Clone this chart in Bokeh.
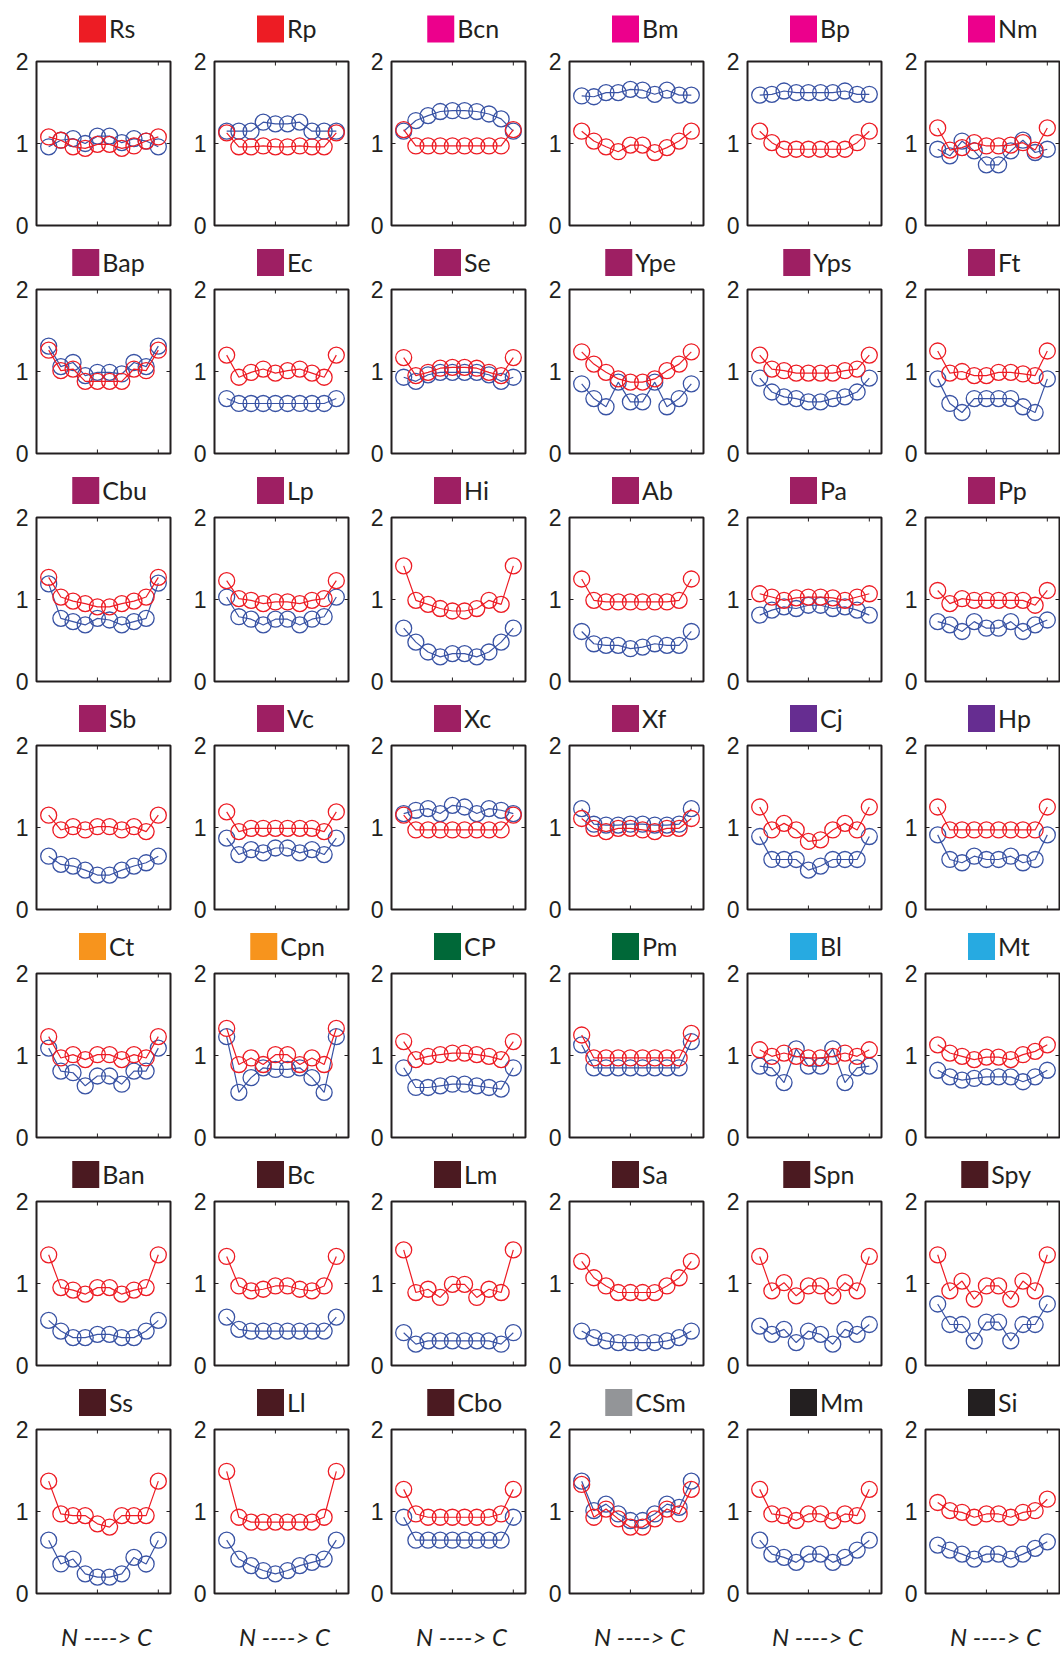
from math import pi
from bokeh.plotting import figure
from bokeh.layouts import column, row
from bokeh.models import Range1d, FixedTicker
from bokeh.core.properties import value
from bokeh.embed import file_html
from bokeh.resources import INLINE

# ---------------- data ----------------
POS = [1, 2, 3, 4, 5, 6, 7, 8, 9, 10]

NAMES = ["Rs", "Rp", "Bcn", "Bm", "Bp", "Nm",
         "Bap", "Ec", "Se", "Ype", "Yps", "Ft",
         "Cbu", "Lp", "Hi", "Ab", "Pa", "Pp",
         "Sb", "Vc", "Xc", "Xf", "Cj", "Hp",
         "Ct", "Cpn", "CP", "Pm", "Bl", "Mt",
         "Ban", "Bc", "Lm", "Sa", "Spn", "Spy",
         "Ss", "Ll", "Cbo", "CSm", "Mm", "Si"]

GROUP_COLORS = ["#ED1C24", "#ED1C24", "#EC008C", "#EC008C", "#EC008C", "#EC008C",
                "#9E1F63", "#9E1F63", "#9E1F63", "#9E1F63", "#9E1F63", "#9E1F63",
                "#9E1F63", "#9E1F63", "#9E1F63", "#9E1F63", "#9E1F63", "#9E1F63",
                "#9E1F63", "#9E1F63", "#9E1F63", "#9E1F63", "#662D91", "#662D91",
                "#F7941D", "#F7941D", "#006838", "#006838", "#27AAE1", "#27AAE1",
                "#4B1A21", "#4B1A21", "#4B1A21", "#4B1A21", "#4B1A21", "#4B1A21",
                "#4B1A21", "#4B1A21", "#4B1A21", "#939598", "#231F20", "#231F20"]

RED_SERIES = [
    [1.08, 1.04, 0.96, 0.94, 0.99, 0.99, 0.94, 0.97, 1.03, 1.08],  # Rs
    [1.13, 0.96, 0.96, 0.97, 0.96, 0.96, 0.97, 0.96, 0.96, 1.13],  # Rp
    [1.17, 0.97, 0.97, 0.97, 0.97, 0.97, 0.97, 0.97, 0.97, 1.17],  # Bcn
    [1.15, 1.03, 0.96, 0.90, 0.98, 0.98, 0.89, 0.95, 1.03, 1.15],  # Bm
    [1.15, 1.01, 0.93, 0.93, 0.93, 0.93, 0.93, 0.93, 1.01, 1.15],  # Bp
    [1.19, 0.92, 0.95, 1.01, 0.97, 0.97, 0.98, 1.01, 0.92, 1.19],  # Nm
    [1.26, 1.01, 1.03, 0.88, 0.88, 0.88, 0.88, 1.03, 1.01, 1.26],  # Bap
    [1.20, 0.93, 0.99, 1.03, 0.98, 1.01, 1.03, 0.98, 0.93, 1.20],  # Ec
    [1.17, 0.95, 0.99, 1.04, 1.05, 1.05, 1.04, 0.99, 0.95, 1.17],  # Se
    [1.24, 1.09, 0.99, 0.91, 0.87, 0.87, 0.91, 1.01, 1.09, 1.24],  # Ype
    [1.20, 1.03, 1.01, 0.98, 0.98, 0.98, 0.98, 1.01, 1.03, 1.20],  # Yps
    [1.25, 0.98, 1.00, 0.95, 0.95, 0.99, 0.99, 0.97, 0.95, 1.25],  # Ft
    [1.27, 1.03, 0.98, 0.95, 0.91, 0.91, 0.95, 0.98, 1.03, 1.27],  # Cbu
    [1.23, 1.01, 0.99, 0.95, 0.97, 0.97, 0.95, 0.99, 1.01, 1.23],  # Lp
    [1.41, 0.99, 0.94, 0.89, 0.86, 0.86, 0.89, 0.99, 0.94, 1.41],  # Hi
    [1.25, 0.99, 0.97, 0.97, 0.97, 0.97, 0.97, 0.97, 0.99, 1.25],  # Ab
    [1.07, 1.03, 0.99, 1.02, 1.03, 1.03, 1.02, 0.99, 1.03, 1.07],  # Pa
    [1.11, 0.95, 1.01, 0.99, 0.99, 0.99, 0.99, 0.99, 0.93, 1.11],  # Pp
    [1.15, 0.97, 1.01, 0.97, 1.01, 1.01, 0.97, 1.01, 0.95, 1.15],  # Sb
    [1.19, 0.95, 0.99, 0.99, 0.99, 0.99, 0.99, 0.99, 0.95, 1.19],  # Vc
    [1.15, 0.97, 0.97, 0.97, 0.97, 0.97, 0.97, 0.97, 0.97, 1.15],  # Xc
    [1.11, 0.99, 0.95, 0.99, 0.99, 0.97, 0.95, 0.99, 0.99, 1.11],  # Xf
    [1.25, 0.97, 1.05, 0.97, 0.83, 0.85, 0.97, 1.05, 0.97, 1.25],  # Cj
    [1.25, 0.97, 0.97, 0.97, 0.97, 0.97, 0.97, 0.97, 0.97, 1.25],  # Hp
    [1.23, 0.97, 1.01, 0.95, 1.01, 1.01, 0.95, 1.01, 0.97, 1.23],  # Ct
    [1.33, 0.89, 0.97, 0.89, 1.01, 1.01, 0.89, 0.97, 0.89, 1.33],  # Cpn
    [1.17, 0.95, 0.99, 1.01, 1.03, 1.03, 1.01, 0.99, 0.95, 1.17],  # CP
    [1.25, 0.97, 0.97, 0.97, 0.97, 0.97, 0.97, 0.97, 0.97, 1.27],  # Pm
    [1.07, 0.99, 1.03, 0.99, 0.97, 0.97, 0.99, 1.03, 0.99, 1.07],  # Bl
    [1.13, 1.03, 0.99, 0.95, 0.98, 0.98, 0.95, 1.01, 1.05, 1.13],  # Mt
    [1.35, 0.95, 0.92, 0.87, 0.95, 0.95, 0.87, 0.92, 0.95, 1.35],  # Ban
    [1.33, 0.97, 0.91, 0.93, 0.97, 0.97, 0.93, 0.91, 0.97, 1.33],  # Bc
    [1.41, 0.89, 0.93, 0.83, 0.99, 0.99, 0.83, 0.93, 0.89, 1.41],  # Lm
    [1.27, 1.07, 0.97, 0.89, 0.89, 0.89, 0.89, 0.97, 1.07, 1.27],  # Sa
    [1.33, 0.91, 1.01, 0.85, 0.97, 0.97, 0.85, 1.01, 0.91, 1.33],  # Spn
    [1.35, 0.91, 1.03, 0.81, 0.97, 0.97, 0.81, 1.03, 0.91, 1.35],  # Spy
    [1.37, 0.97, 0.95, 0.95, 0.85, 0.81, 0.95, 0.95, 0.95, 1.37],  # Ss
    [1.49, 0.93, 0.87, 0.87, 0.87, 0.87, 0.87, 0.87, 0.93, 1.49],  # Ll
    [1.27, 0.97, 0.93, 0.93, 0.93, 0.93, 0.93, 0.93, 0.97, 1.27],  # Cbo
    [1.33, 0.93, 1.03, 0.91, 0.81, 0.81, 0.91, 1.03, 0.97, 1.27],  # CSm
    [1.27, 0.97, 0.95, 0.89, 0.97, 0.97, 0.89, 0.97, 0.95, 1.27],  # Mm
    [1.11, 1.01, 0.99, 0.93, 0.97, 0.97, 0.93, 0.99, 1.01, 1.15],  # Si
]

BLUE_SERIES = [
    [0.96, 1.04, 1.06, 1.00, 1.09, 1.09, 1.01, 1.06, 1.03, 0.96],  # Rs
    [1.15, 1.15, 1.15, 1.26, 1.24, 1.24, 1.26, 1.15, 1.15, 1.15],  # Rp
    [1.15, 1.28, 1.34, 1.39, 1.40, 1.40, 1.39, 1.36, 1.30, 1.15],  # Bcn
    [1.58, 1.57, 1.62, 1.62, 1.66, 1.65, 1.60, 1.65, 1.59, 1.59],  # Bm
    [1.59, 1.60, 1.64, 1.62, 1.62, 1.62, 1.62, 1.64, 1.60, 1.60],  # Bp
    [0.93, 0.85, 1.03, 0.91, 0.74, 0.74, 0.91, 1.04, 0.89, 0.93],  # Nm
    [1.31, 1.06, 1.11, 0.95, 0.99, 0.99, 0.97, 1.11, 1.06, 1.31],  # Bap
    [0.67, 0.61, 0.61, 0.61, 0.61, 0.61, 0.61, 0.61, 0.61, 0.67],  # Ec
    [0.93, 0.88, 0.96, 0.99, 0.99, 0.99, 0.99, 0.96, 0.88, 0.93],  # Se
    [0.85, 0.67, 0.57, 0.87, 0.63, 0.63, 0.87, 0.57, 0.67, 0.85],  # Ype
    [0.92, 0.75, 0.69, 0.67, 0.63, 0.63, 0.67, 0.69, 0.75, 0.92],  # Yps
    [0.91, 0.61, 0.50, 0.67, 0.67, 0.67, 0.67, 0.57, 0.50, 0.91],  # Ft
    [1.19, 0.77, 0.73, 0.69, 0.77, 0.75, 0.69, 0.73, 0.77, 1.20],  # Cbu
    [1.03, 0.79, 0.76, 0.69, 0.76, 0.76, 0.69, 0.76, 0.79, 1.03],  # Lp
    [0.65, 0.48, 0.36, 0.30, 0.34, 0.34, 0.30, 0.36, 0.48, 0.65],  # Hi
    [0.61, 0.46, 0.44, 0.44, 0.40, 0.42, 0.46, 0.44, 0.44, 0.61],  # Ab
    [0.81, 0.87, 0.91, 0.89, 0.93, 0.93, 0.89, 0.91, 0.87, 0.81],  # Pa
    [0.73, 0.69, 0.61, 0.73, 0.65, 0.65, 0.73, 0.61, 0.69, 0.75],  # Pp
    [0.65, 0.55, 0.53, 0.48, 0.42, 0.42, 0.48, 0.53, 0.57, 0.65],  # Sb
    [0.87, 0.67, 0.73, 0.69, 0.75, 0.75, 0.69, 0.73, 0.67, 0.87],  # Vc
    [1.17, 1.21, 1.23, 1.17, 1.27, 1.25, 1.17, 1.23, 1.21, 1.17],  # Xc
    [1.23, 1.04, 1.03, 1.03, 1.04, 1.04, 1.03, 1.03, 1.04, 1.23],  # Xf
    [0.89, 0.61, 0.61, 0.61, 0.48, 0.53, 0.61, 0.61, 0.61, 0.89],  # Cj
    [0.91, 0.61, 0.57, 0.65, 0.61, 0.61, 0.65, 0.57, 0.61, 0.91],  # Hp
    [1.09, 0.81, 0.79, 0.63, 0.75, 0.75, 0.65, 0.81, 0.81, 1.09],  # Ct
    [1.23, 0.55, 0.73, 0.85, 0.83, 0.83, 0.85, 0.73, 0.55, 1.23],  # Cpn
    [0.85, 0.61, 0.61, 0.63, 0.65, 0.65, 0.63, 0.61, 0.59, 0.85],  # CP
    [1.13, 0.85, 0.85, 0.85, 0.85, 0.85, 0.85, 0.85, 0.85, 1.17],  # Pm
    [0.87, 0.85, 0.67, 1.08, 0.87, 0.87, 1.08, 0.67, 0.85, 0.87],  # Bl
    [0.82, 0.74, 0.70, 0.72, 0.74, 0.74, 0.74, 0.68, 0.74, 0.82],  # Mt
    [0.55, 0.42, 0.34, 0.34, 0.38, 0.38, 0.34, 0.34, 0.42, 0.55],  # Ban
    [0.59, 0.44, 0.42, 0.42, 0.42, 0.42, 0.42, 0.42, 0.42, 0.59],  # Bc
    [0.40, 0.26, 0.30, 0.30, 0.30, 0.30, 0.30, 0.30, 0.26, 0.40],  # Lm
    [0.42, 0.34, 0.30, 0.28, 0.28, 0.28, 0.28, 0.30, 0.34, 0.42],  # Sa
    [0.48, 0.38, 0.44, 0.28, 0.42, 0.38, 0.26, 0.44, 0.38, 0.50],  # Spn
    [0.75, 0.50, 0.50, 0.30, 0.53, 0.53, 0.30, 0.50, 0.50, 0.75],  # Spy
    [0.65, 0.36, 0.42, 0.24, 0.20, 0.20, 0.24, 0.44, 0.36, 0.65],  # Ss
    [0.65, 0.42, 0.34, 0.28, 0.24, 0.28, 0.34, 0.38, 0.42, 0.65],  # Ll
    [0.93, 0.65, 0.65, 0.65, 0.65, 0.65, 0.65, 0.65, 0.65, 0.93],  # Cbo
    [1.37, 1.01, 1.09, 0.97, 0.89, 0.89, 0.97, 1.09, 1.05, 1.37],  # CSm
    [0.65, 0.48, 0.44, 0.38, 0.48, 0.48, 0.38, 0.44, 0.53, 0.65],  # Mm
    [0.59, 0.53, 0.48, 0.42, 0.48, 0.48, 0.42, 0.48, 0.55, 0.63],  # Si
]

Y_TICKS = [0, 1, 2]
X_TICKS = [5, 10]
X_LIM = (0, 11)
Y_LIM = (0, 2)
X_LABEL = "N ----> C"

# ---------------- style / layout ----------------
RED = "#ED1C24"
BLUE = "#3953A4"
INK = "#231F20"
NCOL, NROW = 6, 7
COL_W = [178, 177, 178, 178, 178, 171]
LB = 36
FRAME_W = 134
FRAME_H = 164
BT, BB = 13, 14
STRIP_H = [48, 37, 37, 37, 37, 37, 37]
SQ_Y = [19.5, 14, 14, 14, 14, 14, 14]     # square centre, px above strip bottom
SQ = 27
TITLE_FS = 25
FOOT_H = 45


def title_fig(idx, r, c):
    w, h = COL_W[c], STRIP_H[r]
    p = figure(width=w, height=h, x_range=Range1d(0, w), y_range=Range1d(0, h),
               min_border=0, toolbar_location=None, output_backend="svg",
               x_axis_type=None, y_axis_type=None, outline_line_color=None)
    name = NAMES[idx]
    tw = 13.5 * len(name)
    group = SQ + 3 + tw
    left = LB + FRAME_W / 2 + 4 - group / 2
    p.scatter([left + SQ / 2], [SQ_Y[r]], marker="square", size=SQ,
              fill_color=GROUP_COLORS[idx], line_color=None)
    p.text([left + SQ + 3], [SQ_Y[r] + 1], text=[name], text_font=value("Lato"),
           text_font_size=f"{TITLE_FS}px", text_baseline="middle", text_align="left",
           text_color=INK)
    return p


def panel_fig(idx, c):
    w = COL_W[c]
    p = figure(width=w, height=FRAME_H + BT + BB,
               x_range=Range1d(*X_LIM), y_range=Range1d(*Y_LIM),
               min_border_left=LB, min_border_right=w - LB - FRAME_W,
               min_border_top=BT, min_border_bottom=BB,
               toolbar_location=None, output_backend="svg")
    p.grid.visible = False
    p.xaxis.visible = False
    p.outline_line_color = INK
    p.outline_line_width = 2
    p.outline_line_alpha = 1.0
    ya = p.yaxis[0]
    ya.ticker = FixedTicker(ticks=Y_TICKS)
    ya.major_label_text_font = "Liberation Sans"
    ya.major_label_text_font_size = "23px"
    ya.major_label_text_color = INK
    ya.major_label_standoff = 8
    ya.major_tick_in = 4
    ya.major_tick_out = 0
    ya.minor_tick_in = 0
    ya.minor_tick_out = 0
    ya.axis_line_color = None
    ya.major_tick_line_color = INK

    # mirrored inward tick marks (top, bottom, right)
    for yy in Y_LIM:
        p.scatter(X_TICKS, [yy] * len(X_TICKS), marker="dash", angle=pi / 2, size=8,
                  line_color=INK, line_width=1)
    p.scatter([X_LIM[1]], [1], marker="dash", size=8, line_color=INK, line_width=1)

    for ys, col in ((BLUE_SERIES[idx], BLUE), (RED_SERIES[idx], RED)):
        p.line(POS, ys, line_color=col, line_width=1.2)
        p.scatter(POS, ys, marker="circle", size=16, fill_color=None,
                  line_color=col, line_width=1.3)
    return p


def foot_fig(c):
    w = COL_W[c]
    p = figure(width=w, height=FOOT_H, x_range=Range1d(0, w), y_range=Range1d(0, FOOT_H),
               min_border=0, toolbar_location=None, output_backend="svg",
               x_axis_type=None, y_axis_type=None, outline_line_color=None)
    p.text([LB + FRAME_W / 2 + 3], [16], text=[X_LABEL],
           text_font=value("Lato"), text_font_style="italic",
           text_font_size="24px", text_baseline="middle", text_align="center",
           text_color=INK)
    return p


rows = []
for r in range(NROW):
    rows.append(row([title_fig(r * NCOL + c, r, c) for c in range(NCOL)], spacing=0))
    rows.append(row([panel_fig(r * NCOL + c, c) for c in range(NCOL)], spacing=0))
rows.append(row([foot_fig(c) for c in range(NCOL)], spacing=0))

layout = column(rows, spacing=0)

open("out.html", "w").write(file_html(layout, INLINE))
